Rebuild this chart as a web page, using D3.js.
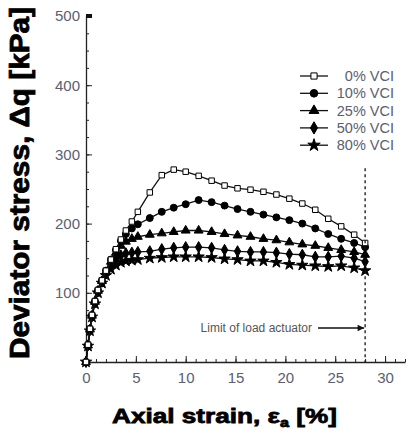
<!DOCTYPE html>
<html>
<head>
<meta charset="utf-8">
<script src="https://cdn.jsdelivr.net/npm/d3@7"></script>
<style>
  body { margin: 0; background: #fff; }
  svg { display: block; }
  .tick text { font-family: "Liberation Sans", Arial, sans-serif; font-size: 15px; fill: #5a6070; }
  .axis path, .axis line { stroke: #222; }
</style>
</head>
<body>
<div id="chart"></div>
<script>
// axial strain [%] shared by all series
var strain = [0, 0.2, 0.4, 0.6, 0.9, 1.2, 1.6, 2.0, 2.5, 3.0, 3.5, 4.0, 4.6, 5.2, 6.4, 7.6, 8.8, 10.0,
  11.3, 12.6, 13.9, 15.2, 16.5, 17.8, 19.1, 20.4, 21.7, 23.0, 24.3, 25.6, 26.9, 28.0];

// deviator stress [kPa]
var vci0 = [0, 25, 48, 68, 88, 104, 118, 132, 148, 163, 177, 190, 203, 217, 245, 270, 278, 275,
  269, 262, 255, 251, 249, 246, 242, 236, 229, 220, 207, 196, 184, 172];
var vci10 = [0, 25, 48, 68, 88, 104, 118, 132, 148, 162, 175, 185, 193, 199, 208, 217, 223, 228,
  234, 231, 226, 221, 217, 213, 209, 205, 200, 193, 185, 178, 172, 166];
var vci25 = [0, 24, 47, 67, 87, 103, 117, 130, 145, 158, 168, 174, 178, 181, 184, 186, 188, 190,
  190, 188, 185, 183, 181, 178, 176, 173, 170, 168, 165, 162, 159, 155];
var vci50 = [0, 24, 46, 66, 86, 102, 116, 128, 140, 149, 154, 157, 158, 159, 160, 163, 165, 166,
  166, 165, 162, 160, 159, 159, 158, 156, 155, 152, 152, 153, 150, 145];
var vci80 = [0, 23, 45, 65, 84, 100, 114, 125, 134, 140, 144, 146, 147, 148, 150, 151, 152, 152,
  152, 151, 149, 148, 146, 146, 144, 141, 140, 139, 138, 139, 136, 132];

var seriesNames = ["0% VCI", "10% VCI", "25% VCI", "50% VCI", "80% VCI"];
var xTicks = [0, 5, 10, 15, 20, 25, 30];
var yTicks = [100, 200, 300, 400, 500];
var limitStrain = 28;
var limitTop = 280;

var svgWidth = 409, svgHeight = 430;

var svg = d3.select("#chart").append("svg")
  .attr("width", svgWidth)
  .attr("height", svgHeight);

var xScale = d3.scaleLinear().domain([0, 32]).range([86, 405]);
var yScale = d3.scaleLinear().domain([0, 500]).range([362, 16]);

// minor ticks first
svg.append("g")
  .attr("class", "axis")
  .attr("transform", "translate(0,362)")
  .call(d3.axisBottom(xScale).tickValues(d3.range(0, 33, 1)).tickSize(-3).tickFormat(""))
  .select(".domain").remove();
svg.append("g")
  .attr("class", "axis")
  .attr("transform", "translate(86,0)")
  .call(d3.axisLeft(yScale).tickValues(d3.range(0, 501, 25)).tickSize(-3).tickFormat(""))
  .select(".domain").remove();

// major ticks + labels
var xAxis = svg.append("g")
  .attr("class", "axis")
  .attr("transform", "translate(0,362)")
  .call(d3.axisBottom(xScale).tickValues(xTicks).tickSizeInner(-6).tickSizeOuter(0).tickPadding(10));
var yAxis = svg.append("g")
  .attr("class", "axis")
  .attr("transform", "translate(86,0)")
  .call(d3.axisLeft(yScale).tickValues(yTicks).tickSizeInner(-6).tickSizeOuter(0).tickPadding(6));
xAxis.select(".domain").attr("stroke-width", 1.3);
yAxis.select(".domain").attr("stroke-width", 1.3);

// the heavy mark at the top of the y axis
svg.append("rect")
  .attr("x", 86)
  .attr("y", yScale(500) - 2)
  .attr("width", 6)
  .attr("height", 4)
  .attr("fill", "#111");

// series
var series = [vci0, vci10, vci25, vci50, vci80].map(function(vals, i) {
  return { name: seriesNames[i], points: strain.map(function(s, j) { return [s, vals[j]]; }) };
});

var symbols = [
  { type: d3.symbolSquare, size: 30, fill: "#fff" },
  { type: d3.symbolCircle, size: 38, fill: "#000" },
  { type: d3.symbolTriangle, size: 34, fill: "#000" },
  { type: d3.symbolDiamond, size: 36, fill: "#000" },
  { type: d3.symbolStar, size: 40, fill: "#000" }
];

var line = d3.line()
  .x(d => xScale(d[0]))
  .y(d => yScale(d[1]));

// draw from bottom series up so open squares stay on top
var drawOrder = [4, 3, 2, 1, 0];
drawOrder.forEach(function(i) {
  var s = series[i];
  var g = svg.append("g");
  g.append("path")
    .datum(s.points)
    .attr("d", line)
    .attr("fill", "none")
    .attr("stroke", "#111")
    .attr("stroke-width", 1.3);
  g.selectAll("path.mark")
    .data(s.points)
    .enter()
    .append("path")
    .attr("class", "mark")
    .attr("transform", d => `translate(${xScale(d[0])},${yScale(d[1])})`)
    .attr("d", d3.symbol().type(symbols[i].type).size(symbols[i].size))
    .attr("fill", symbols[i].fill)
    .attr("stroke", "#000")
    .attr("stroke-width", 1);
});

// limit of load actuator
svg.append("line")
  .attr("x1", xScale(limitStrain))
  .attr("x2", xScale(limitStrain))
  .attr("y1", yScale(limitTop))
  .attr("y2", yScale(0))
  .attr("stroke", "#111")
  .attr("stroke-width", 1.3)
  .attr("stroke-dasharray", "3,3");

svg.append("defs").append("marker")
  .attr("id", "arrow")
  .attr("viewBox", "0 0 10 10")
  .attr("refX", 10)
  .attr("refY", 5)
  .attr("markerWidth", 7)
  .attr("markerHeight", 5)
  .attr("orient", "auto")
  .append("path")
  .attr("d", "M0,0 L10,5 L0,10 z")
  .attr("fill", "#111");

svg.append("line")
  .attr("x1", 318)
  .attr("x2", xScale(limitStrain) - 1)
  .attr("y1", 328)
  .attr("y2", 328)
  .attr("stroke", "#111")
  .attr("stroke-width", 1.3)
  .attr("marker-end", "url(#arrow)");

svg.append("text")
  .attr("x", 312)
  .attr("y", 332)
  .attr("text-anchor", "end")
  .attr("font-family", "Liberation Sans, Arial, sans-serif")
  .attr("font-size", "12px")
  .attr("fill", "#555")
  .text("Limit of load actuator");

// legend
var legend = svg.append("g");
series.forEach(function(s, i) {
  var ly = 76 + i * 17.3;
  legend.append("line")
    .attr("x1", 300).attr("x2", 328)
    .attr("y1", ly).attr("y2", ly)
    .attr("stroke", "#111")
    .attr("stroke-width", 1.3);
  legend.append("path")
    .attr("transform", `translate(314,${ly})`)
    .attr("d", d3.symbol().type(symbols[i].type).size(symbols[i].size + 8))
    .attr("fill", symbols[i].fill)
    .attr("stroke", "#000");
  legend.append("text")
    .attr("x", 394)
    .attr("y", ly + 5)
    .attr("text-anchor", "end")
    .attr("font-family", "Liberation Sans, Arial, sans-serif")
    .attr("font-size", "14.5px")
    .attr("fill", "#5a6070")
    .text(s.name);
});

// axis titles
svg.append("text")
  .attr("transform", "translate(29,183) rotate(-90)")
  .attr("text-anchor", "middle")
  .attr("font-family", "Liberation Sans, Arial, sans-serif")
  .attr("font-weight", "bold")
  .attr("font-size", "27px")
  .attr("fill", "#000")
  .attr("stroke", "#000")
  .attr("stroke-width", 0.8)
  .attr("textLength", 352)
  .attr("lengthAdjust", "spacingAndGlyphs")
  .text("Deviator stress, Δq [kPa]");

var xTitle = svg.append("text")
  .attr("x", 0)
  .attr("y", 0)
  .attr("font-family", "Liberation Sans, Arial, sans-serif")
  .attr("font-weight", "bold")
  .attr("font-size", "21px")
  .attr("fill", "#000")
  .attr("stroke", "#000")
  .attr("stroke-width", 0.8);
xTitle.append("tspan").text("Axial strain, ε");
xTitle.append("tspan").attr("font-size", "13px").attr("dy", 4).text("a");
xTitle.append("tspan").attr("dy", -4).text(" [%]");

var w = xTitle.node().getComputedTextLength();
var targetW = 225;
xTitle.attr("transform", `translate(112,423) scale(${targetW / w},1)`);
</script>
</body>
</html>
